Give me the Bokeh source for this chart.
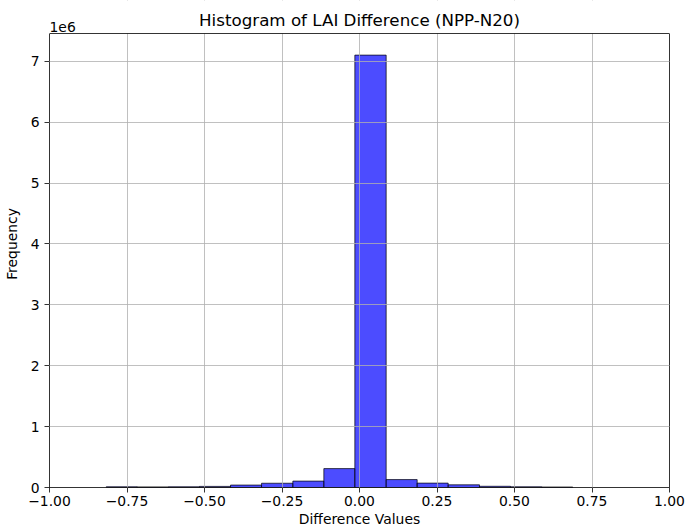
from bokeh.plotting import figure
from bokeh.models import (Label, FixedTicker, ColumnDataSource, Span,
                          BoxAnnotation, LinearAxis)
from bokeh.embed import file_html
from bokeh.resources import INLINE

# Histogram data
bin_edges = [-0.817, -0.717, -0.616, -0.516, -0.416, -0.316, -0.215, -0.115,
             -0.015, 0.086, 0.186, 0.286, 0.387, 0.487, 0.588, 0.688]
counts = [12000, 10000, 12000, 18000, 40000, 70000, 105000, 310000,
          7100000, 130000, 72000, 44000, 20000, 12000, 8000]
x_ticks = [-1.0, -0.75, -0.5, -0.25, 0.0, 0.25, 0.5, 0.75, 1.0]
x_tick_labels = ["\u22121.00", "\u22120.75", "\u22120.50", "\u22120.25", "0.00",
                 "0.25", "0.50", "0.75", "1.00"]
y_ticks = [0, 1e6, 2e6, 3e6, 4e6, 5e6, 6e6, 7e6]
y_tick_labels = ["0", "1", "2", "3", "4", "5", "6", "7"]
title_text = "Histogram of LAI Difference (NPP-N20)"
offset_text = "1e6"

FONT = "DejaVu Sans"
W, H = 685, 530
BORDER_BOTTOM = 43
TOP_GAP = 33  # pixels between the page top and the axes box

y_max = max(counts) * 1.05
frame_h = H - BORDER_BOTTOM
y_end = y_max * frame_h / (frame_h - TOP_GAP)
px = y_end / frame_h  # data units per pixel, vertically

src = ColumnDataSource(dict(left=bin_edges[:-1], right=bin_edges[1:],
                            top=counts, bottom=[0] * len(counts)))

p = figure(width=W, height=H, output_backend="svg", toolbar_location=None,
           x_range=(-1, 1), y_range=(0, y_end),
           min_border_left=49, min_border_right=16, min_border_top=0,
           min_border_bottom=BORDER_BOTTOM)
p.background_fill_color = "white"
p.border_fill_color = "white"
p.outline_line_color = None

p.quad(left="left", right="right", top="top", bottom="bottom", source=src,
       fill_color="blue", fill_alpha=0.7, line_color="black", line_alpha=0.7,
       line_width=1)

for g in (p.xgrid, p.ygrid):
    g.grid_line_color = "#b0b0b0"
    g.grid_line_width = 0.8
    g.level = "guide"
p.xgrid.ticker = FixedTicker(ticks=x_ticks)
p.ygrid.ticker = FixedTicker(ticks=y_ticks)

p.xaxis.ticker = FixedTicker(ticks=x_ticks)
p.xaxis.major_label_overrides = {t: l for t, l in zip(x_ticks, x_tick_labels)}
p.yaxis.ticker = FixedTicker(ticks=y_ticks)
p.yaxis.major_label_overrides = {t: l for t, l in zip(y_ticks, y_tick_labels)}
p.yaxis.bounds = (0, y_max)

p.xaxis.axis_label = "Difference Values"
p.yaxis.axis_label = "Frequency"
for ax in (p.xaxis, p.yaxis):
    ax.axis_line_color = "black"
    ax.axis_line_width = 0.8
    ax.major_tick_line_color = "black"
    ax.major_tick_line_width = 0.8
    ax.major_tick_in = 0
    ax.major_tick_out = 5
    ax.minor_tick_line_color = None
    ax.major_label_text_font = FONT
    ax.major_label_text_font_size = "13.9px"
    ax.major_label_text_color = "black"
    ax.axis_label_text_font = FONT
    ax.axis_label_text_font_size = "13.9px"
    ax.axis_label_text_font_style = "normal"
    ax.axis_label_text_color = "black"
p.xaxis.major_label_standoff = 3
p.xaxis.axis_label_standoff = 2
p.yaxis.major_label_standoff = 5
p.yaxis.axis_label_standoff = 8

# right edge of the axes box
rax = LinearAxis(bounds=(0, y_max), axis_line_color="black", axis_line_width=0.8,
                 major_tick_line_color=None, minor_tick_line_color=None,
                 major_label_text_color=None, major_label_text_font_size="1px",
                 major_label_standoff=0)
p.add_layout(rax, "right")

# blank strip above the axes box, where the title sits
p.add_layout(BoxAnnotation(bottom=y_max, fill_color="white", fill_alpha=1,
                           line_color=None))
p.add_layout(Span(location=y_max, dimension="width", line_color="black",
                  line_width=0.8))

p.add_layout(Label(x=0, y=y_max + 4 * px, text=title_text, text_font=FONT,
                   text_font_size="16.7px", anchor="bottom_center",
                   text_color="black"))
p.add_layout(Label(x=-1, y=y_max + 2 * px, text=offset_text, text_font=FONT,
                   text_font_size="13.9px", anchor="bottom_left",
                   text_color="black"))

open("out.html", "w").write(file_html(p, INLINE))
